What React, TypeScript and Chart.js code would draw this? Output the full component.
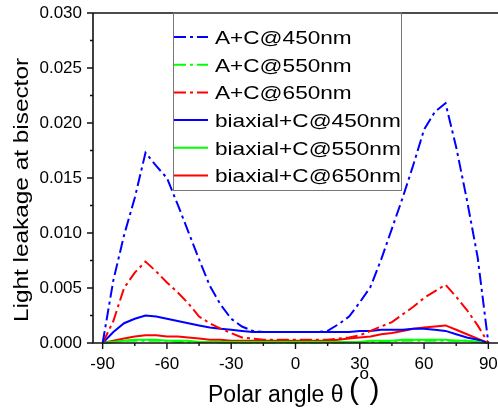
import React, { useEffect, useRef } from "react";
import { Chart, registerables } from "chart.js";

Chart.register(...registerables);

const angles = [-90, -85, -80, -75, -70, -65, -60, -55, -50, -45, -40, -35, -30, -25, -20, -15, -10, -5, 0, 5, 10, 15, 20, 25, 30, 35, 40, 45, 50, 55, 60, 65, 70, 75, 80, 85, 90];

const acBlue450 = [0, 0.0057, 0.0098, 0.0132, 0.0173, 0.0161, 0.015, 0.0126, 0.0101, 0.0076, 0.0052, 0.0035, 0.0022, 0.0015, 0.0011, 0.001, 0.001, 0.001, 0.001, 0.001, 0.001, 0.0011, 0.0017, 0.0024, 0.0037, 0.0051, 0.0076, 0.0104, 0.0132, 0.0162, 0.0194, 0.021, 0.0218, 0.0178, 0.013, 0.0078, 0];
const acGreen550 = [0, 0.0001, 0.0002, 0.0002, 0.0002, 0.0002, 0.0002, 0.0001, 0.0001, 0.0001, 0.0001, 0.00005, 0.00005, 0.00005, 0.00005, 0.00005, 0.00005, 0.00005, 0.00005, 0.00005, 0.00005, 0.00005, 0.00005, 0.00005, 0.0001, 0.0001, 0.0001, 0.0001, 0.0002, 0.0002, 0.0002, 0.0002, 0.0002, 0.0002, 0.0002, 0.0001, 0];
const acRed650 = [0, 0.002, 0.005, 0.0064, 0.0074, 0.0065, 0.0055, 0.0046, 0.0036, 0.0024, 0.0018, 0.0013, 0.0009, 0.0005, 0.0004, 0.0003, 0.0003, 0.0003, 0.0003, 0.0003, 0.0003, 0.0003, 0.0004, 0.0005, 0.0007, 0.0011, 0.0015, 0.0019, 0.0026, 0.0033, 0.0041, 0.0047, 0.0053, 0.0042, 0.003, 0.0016, 0];
const bxBlue450 = [0, 0.001, 0.0018, 0.0022, 0.0025, 0.0024, 0.0022, 0.002, 0.0018, 0.0016, 0.0014, 0.0013, 0.0012, 0.0011, 0.001, 0.001, 0.001, 0.001, 0.001, 0.001, 0.001, 0.001, 0.001, 0.001, 0.0011, 0.0011, 0.0012, 0.0012, 0.0012, 0.0013, 0.0013, 0.0012, 0.0011, 0.0008, 0.0005, 0.0003, 0];
const bxGreen550 = [0, 0.0001, 0.0002, 0.0003, 0.0003, 0.0003, 0.0002, 0.0002, 0.0002, 0.0001, 0.0001, 0.0001, 0.0001, 0.0001, 0.0001, 0.0001, 0.0001, 0.0001, 0.0001, 0.0001, 0.0001, 0.0001, 0.0001, 0.0001, 0.0001, 0.0002, 0.0002, 0.0002, 0.0003, 0.0003, 0.0003, 0.0003, 0.0003, 0.0002, 0.0002, 0.0001, 0];
const bxRed650 = [0, 0.0002, 0.0004, 0.0006, 0.0007, 0.0007, 0.0006, 0.0006, 0.0005, 0.0004, 0.0003, 0.0003, 0.0002, 0.0002, 0.0002, 0.0002, 0.0002, 0.0002, 0.0002, 0.0002, 0.0002, 0.0002, 0.0003, 0.0004, 0.0005, 0.0006, 0.0008, 0.0009, 0.0011, 0.0013, 0.0014, 0.0015, 0.0016, 0.0012, 0.0008, 0.0004, 0];

const seriesLabels = ["A+C@450nm", "A+C@550nm", "A+C@650nm", "biaxial+C@450nm", "biaxial+C@550nm", "biaxial+C@650nm"];
const seriesValues = [acBlue450, acGreen550, acRed650, bxBlue450, bxGreen550, bxRed650];
const seriesColors = ["#0000ff", "#00ff00", "#ff0000", "#0000ff", "#00ff00", "#ff0000"];
const seriesDashed = [true, true, true, false, false, false];

const xTicks = [-90, -60, -30, 0, 30, 60, 90];
const xMinorTicks = [-75, -45, -15, 15, 45, 75];
const yTicks = [0, 0.005, 0.01, 0.015, 0.02, 0.025, 0.03];
const yMinorTicks = [0.0025, 0.0075, 0.0125, 0.0175, 0.0225, 0.0275];

const xTitle = "Polar angle θ ";
const xTitleOpen = "(";
const xTitleSup = "o";
const xTitleEnd = ")";
const yTitle = "Light leakage at bisector";

const FONT = '"Liberation Sans", Arial, sans-serif';
const DASH = [12, 4, 3, 4];

const framePlugin = {
  id: "frame",
  afterDraw(chart: any) {
    const { ctx, chartArea } = chart;
    const xs = chart.scales.x;
    const ys = chart.scales.y;
    const L = chartArea.left, R = chartArea.right, T = chartArea.top, B = chartArea.bottom;
    ctx.save();
    ctx.strokeStyle = "#111";
    ctx.lineWidth = 1.6;
    ctx.beginPath();
    ctx.moveTo(L, T);
    ctx.lineTo(R, T);
    ctx.moveTo(L, T);
    ctx.lineTo(L, B);
    ctx.lineTo(R, B);
    ctx.stroke();
    ctx.lineWidth = 1.4;
    ctx.beginPath();
    for (const v of yTicks) {
      const y = ys.getPixelForValue(v);
      ctx.moveTo(L - 6, y);
      ctx.lineTo(L, y);
    }
    for (const v of yMinorTicks) {
      const y = ys.getPixelForValue(v);
      ctx.moveTo(L - 3, y);
      ctx.lineTo(L, y);
    }
    for (const v of xTicks) {
      const x = xs.getPixelForValue(v);
      ctx.moveTo(x, B);
      ctx.lineTo(x, B + 6);
    }
    for (const v of xMinorTicks) {
      const x = xs.getPixelForValue(v);
      ctx.moveTo(x, B);
      ctx.lineTo(x, B + 3);
    }
    ctx.stroke();

    // axis titles
    ctx.fillStyle = "#000";
    ctx.textBaseline = "alphabetic";
    ctx.textAlign = "left";
    ctx.font = `23px ${FONT}`;
    let x = 208;
    ctx.fillText(xTitle, x, 402);
    x += ctx.measureText(xTitle).width - 1;
    ctx.font = `30px ${FONT}`;
    ctx.fillText(xTitleOpen, x, 399);
    x += ctx.measureText(xTitleOpen).width;
    ctx.font = `17px ${FONT}`;
    ctx.fillText(xTitleSup, x + 0.5, 379);
    x += ctx.measureText(xTitleSup).width + 1;
    ctx.font = `30px ${FONT}`;
    ctx.fillText(xTitleEnd, x, 399);

    ctx.save();
    ctx.translate(27.5, 190);
    ctx.rotate(-Math.PI / 2);
    ctx.scale(1.16, 1);
    ctx.textAlign = "center";
    ctx.font = `21px ${FONT}`;
    ctx.fillText(yTitle, 0, 0);
    ctx.restore();
    ctx.restore();
  },
};

const legendPlugin = {
  id: "boxLegend",
  afterDraw(chart: any) {
    const { ctx } = chart;
    const left = 173, right = 401, top = 13, bottom = 190;
    ctx.save();
    ctx.fillStyle = "#fff";
    ctx.fillRect(left, top + 1, right - left, bottom - top - 1);
    ctx.strokeStyle = "#777";
    ctx.lineWidth = 1;
    ctx.strokeRect(left + 0.5, top, right - left, bottom - top + 0.5);
    chart.data.datasets.forEach((ds: any, i: number) => {
      const cy = 37 + i * 27.7;
      ctx.strokeStyle = ds.borderColor;
      ctx.lineWidth = 2;
      ctx.setLineDash(ds.borderDash || []);
      ctx.beginPath();
      ctx.moveTo(left + 1, cy);
      ctx.lineTo(208, cy);
      ctx.stroke();
      ctx.setLineDash([]);
      ctx.save();
      ctx.translate(215, cy + 6.8);
      ctx.scale(1.19, 1);
      ctx.fillStyle = "#000";
      ctx.font = `19px ${FONT}`;
      ctx.textAlign = "left";
      ctx.textBaseline = "alphabetic";
      ctx.fillText(ds.label, 0, 0);
      ctx.restore();
    });
    ctx.restore();
  },
};

export default function App() {
  const ref = useRef<HTMLCanvasElement | null>(null);
  useEffect(() => {
    document.body.style.margin = "0";
    const canvas = ref.current;
    if (!canvas) return;
    const datasets = seriesLabels.map((label, i) => ({
      label,
      data: angles.map((a, j) => ({ x: a, y: seriesValues[i][j] })),
      borderColor: seriesColors[i],
      backgroundColor: seriesColors[i],
      borderWidth: 2,
      borderDash: seriesDashed[i] ? DASH : [],
      pointRadius: 0,
      tension: 0,
      fill: false,
      clip: 4,
    }));
    const chart = new Chart(canvas, {
      type: "line",
      data: { datasets },
      options: {
        responsive: false,
        animation: false,
        layout: { padding: { top: 13, right: 0, left: 0, bottom: 0 } },
        plugins: { legend: { display: false }, tooltip: { enabled: false }, title: { display: false } },
        scales: {
          x: {
            type: "linear",
            min: -94.5,
            max: 94.5,
            afterBuildTicks: (s: any) => {
              s.ticks = xTicks.map((v) => ({ value: v }));
            },
            afterFit: (s: any) => {
              s.height = 66;
              s.paddingLeft = 0;
              s.paddingRight = 0;
              s.paddingTop = 0;
              s.paddingBottom = 0;
            },
            grid: { display: false, drawTicks: false },
            border: { display: false },
            ticks: {
              autoSkip: false,
              maxRotation: 0,
              padding: 11,
              color: "#000",
              font: { family: FONT, size: 17 },
              callback: (v: any) => String(v),
            },
          },
          y: {
            type: "linear",
            min: 0,
            max: 0.03,
            afterBuildTicks: (s: any) => {
              s.ticks = yTicks.map((v) => ({ value: v }));
            },
            afterFit: (s: any) => {
              s.width = 93;
              s.paddingLeft = 0;
              s.paddingRight = 0;
              s.paddingTop = 0;
              s.paddingBottom = 0;
            },
            grid: { display: false, drawTicks: false },
            border: { display: false },
            ticks: {
              padding: 11,
              color: "#000",
              font: { family: FONT, size: 17 },
              callback: (v: any) => Number(v).toFixed(3),
            },
          },
        },
      },
      plugins: [framePlugin, legendPlugin],
    });
    return () => chart.destroy();
  }, []);
  return (
    <div style={{ position: "absolute", left: 0, top: 0, width: 498, height: 409, background: "#fff" }}>
      <canvas ref={ref} width={498} height={409} style={{ width: 498, height: 409, display: "block" }} />
    </div>
  );
}
